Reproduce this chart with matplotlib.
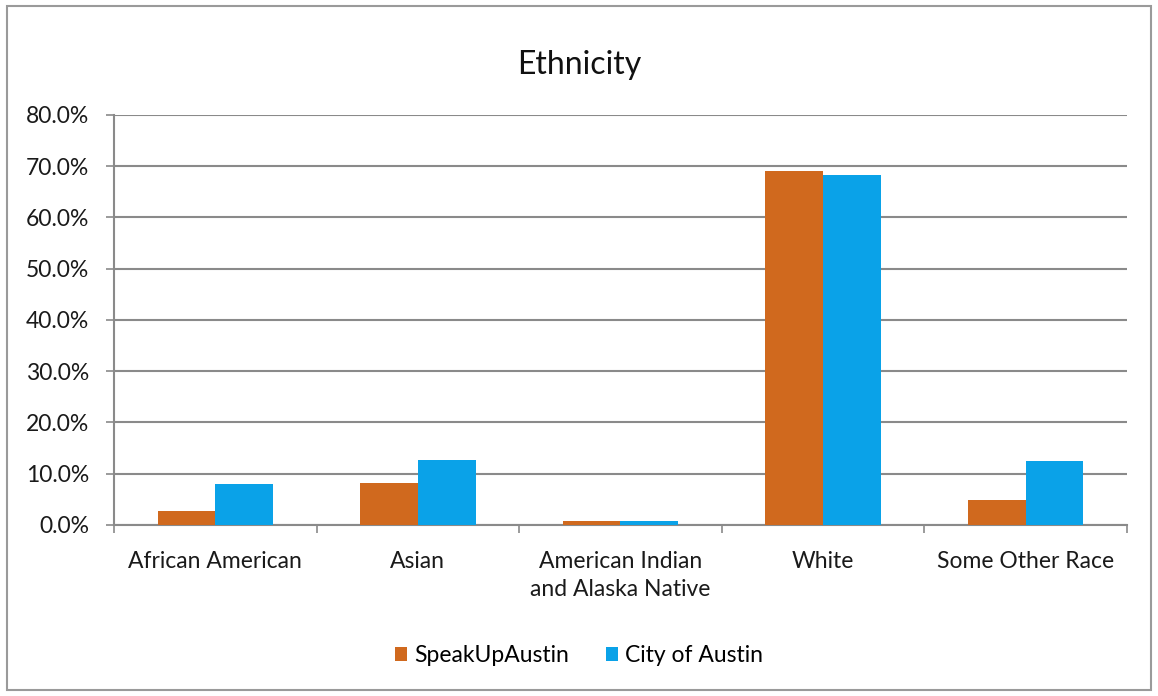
import numpy as np
import matplotlib
matplotlib.use("Agg")
import matplotlib.pyplot as plt
from matplotlib.patches import Rectangle

plt.rcParams['font.family'] = ['Lato', 'DejaVu Sans']

categories = ["African American", "Asian", "American Indian\nand Alaska Native",
              "White", "Some Other Race"]
speakup = [2.7, 8.2, 0.7, 69.1, 4.9]
city = [8.0, 12.7, 0.7, 68.2, 12.5]
series_names = ["SpeakUpAustin", "City of Austin"]
yticks = [0, 10, 20, 30, 40, 50, 60, 70, 80]

orange = "#D0691E"
blue = "#0AA2E8"
grid_c = "#8A8A8A"
txt_c = "#1A1A1A"

fig = plt.figure(figsize=(11.58, 6.96), dpi=100)
fig.patches.append(Rectangle((0.006, 0.008), 0.988, 0.984, transform=fig.transFigure,
                             fill=False, edgecolor="#9A9A9A", linewidth=1.5))
ax = fig.add_axes([0.0984, 0.2457, 0.8748, 0.5891])

x = np.arange(len(categories))
w = 0.285
ax.bar(x - w / 2, speakup, w, color=orange, label=series_names[0], zorder=3)
ax.bar(x + w / 2, city, w, color=blue, label=series_names[1], zorder=3)

ax.set_xlim(-0.5, len(categories) - 0.5)
ax.set_ylim(0, 80)
ax.set_yticks(yticks)
ax.set_yticklabels(["%.1f%%" % v for v in yticks], fontsize=16.5, color=txt_c)
ax.yaxis.grid(True, color=grid_c, linewidth=1.5, zorder=0)

ax.set_xticks(x)
ax.set_xticklabels(categories, fontsize=16.5, color=txt_c, linespacing=1.4)
ax.set_xticks(np.arange(len(categories) + 1) - 0.5, minor=True)
ax.tick_params(axis="x", which="major", length=0, pad=19)
ax.tick_params(axis="x", which="minor", length=6, width=1.2, color=grid_c)
ax.tick_params(axis="y", length=6, width=1.2, color=grid_c, pad=12)

for s in ["top", "right"]:
    ax.spines[s].set_visible(False)
for s in ["left", "bottom"]:
    ax.spines[s].set_color(grid_c)
    ax.spines[s].set_linewidth(1.5)

fig.text(0.5, 0.906, "Ethnicity", ha="center", va="center", fontsize=23, color="#111111")

fig.legend(loc="center", bbox_to_anchor=(0.5, 0.058), ncol=2, frameon=False,
           fontsize=16.5, handlelength=0.55, handleheight=0.55, handletextpad=0.3,
           columnspacing=1.6)

fig.savefig("out.png", dpi=100, facecolor="white")
